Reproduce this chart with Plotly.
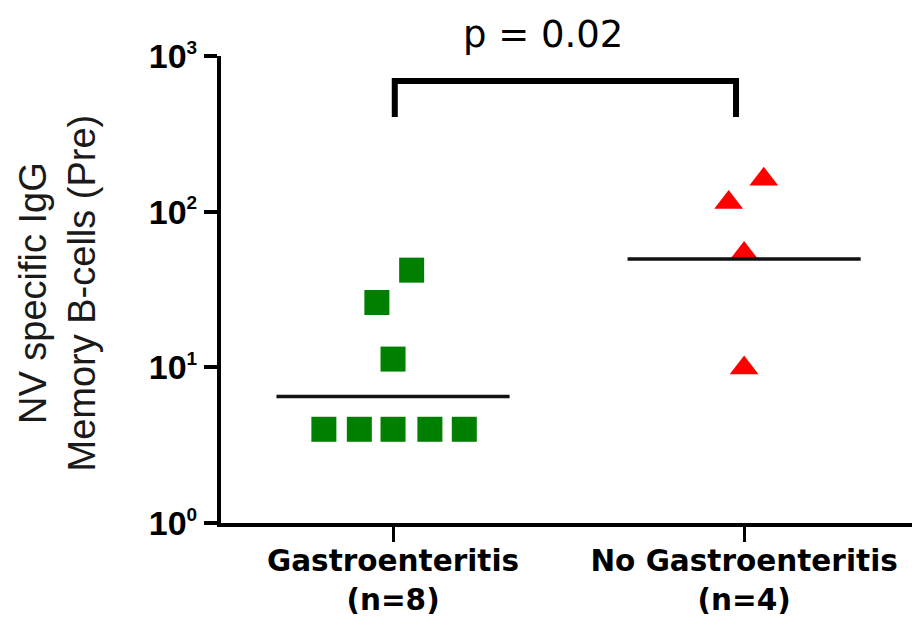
import plotly.graph_objects as go

# ---- data ----
categories = ["Gastroenteritis", "No Gastroenteritis"]
n_labels = ["(n=8)", "(n=4)"]
gastro_values = [4, 4, 4, 4, 4, 11.3, 26.1, 42.1]
gastro_offsets = [-0.197, -0.096, 0.0, 0.105, 0.203, 0.0, -0.046, 0.053]
no_gastro_values = [161.7, 114.6, 53.9, 9.9]
no_gastro_offsets = [0.056, -0.044, 0.0, 0.0]
medians = [6.5, 49.7]
y_tickvals = [1, 10, 100, 1000]
y_ticktext = ["10<sup><span style='font-size:19px'>0</span></sup>",
              "10<sup><span style='font-size:19px'>1</span></sup>",
              "10<sup><span style='font-size:19px'>2</span></sup>",
              "10<sup><span style='font-size:19px'>3</span></sup>"]
p_text = "p = 0.02"
bracket_low = 405
bracket_high = 690

ARIAL = "Liberation Sans, Arial, sans-serif"
VERDANA = "DejaVu Sans, Verdana, sans-serif"
median_half = 0.332
bracket_ends = [0.005, 0.977]

fig = go.Figure()

# points
fig.add_trace(go.Scatter(
    x=[0 + o for o in gastro_offsets], y=gastro_values, mode="markers",
    marker=dict(symbol="square", size=25, color="#008000", line=dict(width=0)),
    showlegend=False, hoverinfo="skip"))
fig.add_trace(go.Scatter(
    x=[1 + o for o in no_gastro_offsets], y=no_gastro_values, mode="markers",
    marker=dict(symbol="triangle-up", size=25, color="#ff0000", line=dict(width=0)),
    showlegend=False, hoverinfo="skip"))

# median lines
for i, m in enumerate(medians):
    fig.add_trace(go.Scatter(
        x=[i - median_half, i + median_half], y=[m, m], mode="lines",
        line=dict(color="#111111", width=3.5), showlegend=False, hoverinfo="skip"))

# significance bracket
fig.add_trace(go.Scatter(
    x=[bracket_ends[0], bracket_ends[0], bracket_ends[1], bracket_ends[1]],
    y=[bracket_low, bracket_high, bracket_high, bracket_low],
    mode="lines", line=dict(color="#000000", width=6),
    showlegend=False, hoverinfo="skip", cliponaxis=False))

fig.add_annotation(
    x=0.426, xref="x", y=1.046, yref="paper", text=p_text, showarrow=False,
    xanchor="center", yanchor="middle",
    font=dict(family=VERDANA, size=37, color="#000000"))

fig.add_annotation(
    x=-0.2353, xref="paper", y=0.4925, yref="paper",
    text="NV specific IgG<br>Memory B-cells (Pre)", textangle=-90, showarrow=False,
    xanchor="center", yanchor="middle",
    font=dict(family=ARIAL, size=38, color="#1a1a1a"))

fig.update_xaxes(
    range=[-0.490, 1.501], tickmode="array", tickvals=[0, 1],
    ticktext=[f"<b>{c}</b><br><b>{n}</b>" for c, n in zip(categories, n_labels)],
    showline=True, linecolor="#000000", linewidth=4,
    ticks="outside", ticklen=15, tickwidth=3, tickcolor="#000000",
    ticklabelstandoff=-6,
    tickfont=dict(family=VERDANA, size=29.5, color="#000000"),
    showgrid=False, zeroline=False, fixedrange=True, automargin=False)

fig.update_yaxes(
    type="log", range=[0, 3], tickmode="array", tickvals=y_tickvals,
    ticktext=[f"<b>{t}</b>" for t in y_ticktext],
    showline=True, linecolor="#000000", linewidth=4,
    ticks="outside", ticklen=13, tickwidth=4, tickcolor="#000000",
    tickfont=dict(family=ARIAL, size=34, color="#000000"),
    showgrid=False, zeroline=False, fixedrange=True, automargin=False)

fig.update_layout(
    width=912, height=612,
    margin=dict(l=213, r=0, t=48, b=97),
    paper_bgcolor="#ffffff", plot_bgcolor="#ffffff",
    showlegend=False)

fig.write_html("out.html")
